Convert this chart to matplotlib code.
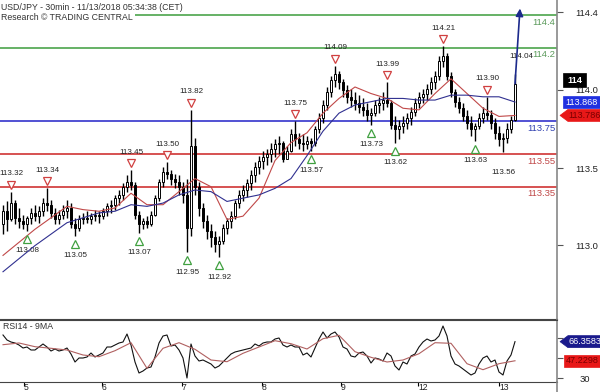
import numpy as np
import matplotlib
matplotlib.use("Agg")
from matplotlib import pyplot as plt
from matplotlib import transforms as mtrans
from matplotlib.patches import Polygon
from matplotlib.lines import Line2D

plt.rcParams["font.family"] = ["Liberation Sans", "DejaVu Sans"]

# candles (one per ~1h slot)
hi = [113.24, 113.26, 113.32, 113.27, 113.22, 113.18, 113.17, 113.22, 113.24, 113.23,
      113.28, 113.34, 113.27, 113.22, 113.21, 113.24, 113.27, 113.25, 113.16, 113.18,
      113.19, 113.20, 113.19, 113.21, 113.20, 113.22, 113.25, 113.27, 113.30, 113.33,
      113.37, 113.42, 113.45, 113.38, 113.20, 113.16, 113.17, 113.20, 113.30, 113.40,
      113.47, 113.50, 113.45, 113.43, 113.42, 113.38, 113.40, 113.82, 113.65, 113.38,
      113.25, 113.18, 113.12, 113.08, 113.05, 113.12, 113.16, 113.20, 113.27, 113.33,
      113.36, 113.40, 113.45, 113.50, 113.54, 113.57, 113.58, 113.62, 113.64, 113.66,
      113.63, 113.60, 113.70, 113.75, 113.68, 113.67, 113.66, 113.65, 113.72, 113.80,
      113.88, 113.96, 114.03, 114.09, 114.06, 114.01, 113.97, 113.95, 113.93, 113.91,
      113.89, 113.86, 113.83, 113.88, 113.90, 113.93, 113.99, 113.88, 113.78, 113.76,
      113.78, 113.80, 113.84, 113.89, 113.93, 113.95, 113.98, 114.02, 114.06, 114.15,
      114.21, 114.17, 114.05, 113.95, 113.90, 113.86, 113.82, 113.78, 113.74, 113.80,
      113.84, 113.90, 113.82, 113.77, 113.72, 113.68, 113.74, 113.78, 114.04]
lo = [113.06, 113.08, 113.14, 113.12, 113.10, 113.09, 113.08, 113.12, 113.14, 113.13,
      113.17, 113.20, 113.16, 113.12, 113.12, 113.15, 113.16, 113.10, 113.05, 113.08,
      113.12, 113.13, 113.12, 113.14, 113.13, 113.15, 113.17, 113.19, 113.21, 113.24,
      113.27, 113.32, 113.33, 113.15, 113.07, 113.09, 113.10, 113.11, 113.17, 113.26,
      113.35, 113.40, 113.36, 113.34, 113.30, 113.25, 112.95, 113.05, 113.30, 113.17,
      113.10, 113.03, 112.98, 112.95, 112.92, 113.00, 113.06, 113.10, 113.15, 113.22,
      113.26, 113.29, 113.33, 113.38, 113.43, 113.46, 113.48, 113.50, 113.53, 113.55,
      113.50, 113.52, 113.56, 113.60, 113.58, 113.57, 113.58, 113.57, 113.60, 113.68,
      113.74, 113.82, 113.90, 113.96, 113.95, 113.90, 113.86, 113.84, 113.82, 113.80,
      113.78, 113.75, 113.73, 113.78, 113.80, 113.82, 113.84, 113.70, 113.62, 113.64,
      113.68, 113.70, 113.73, 113.78, 113.83, 113.86, 113.88, 113.92, 113.95, 114.00,
      114.08, 114.00, 113.90, 113.84, 113.80, 113.75, 113.70, 113.66, 113.63, 113.70,
      113.74, 113.76, 113.70, 113.64, 113.60, 113.56, 113.62, 113.68, 113.75]
cl = [113.20, 113.15, 113.25, 113.16, 113.14, 113.12, 113.16, 113.19, 113.17, 113.20,
      113.25, 113.24, 113.19, 113.15, 113.18, 113.20, 113.22, 113.12, 113.10, 113.15,
      113.16, 113.15, 113.17, 113.18, 113.17, 113.20, 113.23, 113.24, 113.28, 113.30,
      113.35, 113.38, 113.36, 113.18, 113.12, 113.14, 113.12, 113.18, 113.28, 113.38,
      113.44, 113.43, 113.40, 113.38, 113.35, 113.30, 113.10, 113.60, 113.35, 113.22,
      113.14, 113.08, 113.04, 113.00, 113.02, 113.10, 113.14, 113.17, 113.25, 113.30,
      113.33, 113.37, 113.42, 113.47, 113.51, 113.53, 113.55, 113.58, 113.61, 113.62,
      113.52, 113.57, 113.67, 113.64, 113.62, 113.61, 113.63, 113.62, 113.70, 113.77,
      113.85, 113.93, 114.00, 114.04, 113.99, 113.94, 113.90, 113.88, 113.86, 113.84,
      113.82, 113.79, 113.80, 113.85, 113.86, 113.88, 113.86, 113.73, 113.70, 113.72,
      113.74, 113.77, 113.81, 113.86, 113.90, 113.92, 113.95, 113.99, 114.03, 114.12,
      114.15, 114.03, 113.93, 113.87, 113.83, 113.78, 113.74, 113.70, 113.72, 113.77,
      113.80, 113.79, 113.74, 113.68, 113.64, 113.65, 113.70, 113.76, 113.98]
first_open = 113.12

rsi = [73, 68, 66, 65, 63, 60, 61, 58, 58, 61,
       64, 61, 57, 59, 57, 58, 60, 54, 46, 50,
       50, 51, 55, 51, 53, 55, 61, 61, 63, 65,
       66, 74, 63, 46, 35, 37, 40, 41, 51, 65,
       72, 73, 62, 63, 58, 50, 30, 64, 52, 47,
       48, 46, 44, 40, 42, 46, 50, 54, 56, 57,
       58, 59, 60, 64, 62, 65, 66, 66, 69, 70,
       63, 61, 63, 61, 61, 53, 55, 51, 60, 69,
       76, 70, 74, 76, 71, 61, 59, 52, 51, 55,
       56, 52, 45, 50, 49, 47, 55, 52, 42, 38,
       46, 44, 52, 54, 61, 66, 69, 67, 68, 72,
       82, 72, 52, 44, 42, 39, 36, 33, 35, 44,
       50, 52, 46, 48, 36, 33, 47, 53, 66.3583]

# moving averages, sampled every 4th slot
ma_step = 4
red_ma = [112.93, 113.01, 113.09, 113.16, 113.23, 113.21, 113.20, 113.22, 113.31, 113.24,
          113.24, 113.32, 113.40, 113.35, 113.15, 113.17, 113.28, 113.51, 113.62, 113.68,
          113.80, 113.89, 113.96, 113.92, 113.89, 113.83, 113.82, 113.92, 114.01, 113.92,
          113.83, 113.78, 113.786]
blue_ma = [112.83, 112.91, 112.99, 113.06, 113.13, 113.16, 113.19, 113.20, 113.24, 113.23,
           113.25, 113.30, 113.33, 113.32, 113.26, 113.28, 113.30, 113.34, 113.40, 113.54,
           113.69, 113.80, 113.85, 113.87, 113.89, 113.89, 113.88, 113.88, 113.91, 113.91,
           113.90, 113.90, 113.868]
rsi_ma = [63.3, 65, 61.3, 59.7, 58, 53, 51.3, 57.3, 65.3, 39.7,
          59.7, 65.3, 58.7, 48, 46.3, 54.7, 61, 67.3, 64.3, 59,
          69.3, 72.7, 56.3, 50.7, 46, 48, 54.3, 65.3, 64.7, 44.3,
          38.3, 44.3, 47.2298]

hi_marks = [2, 11, 32, 41, 47, 73, 83, 96, 110, 121]
lo_marks = [6, 18, 34, 46, 54, 77, 92, 98, 118]
lo_note = 125

res_levels = [114.4, 114.2]
pivot = 113.75
sup_levels = [113.55, 113.35]
arrow_to = 114.44

day_pos = [5.25, 24.75, 44.75, 64.75, 84.5, 103.75, 124]
day_lbl = ["5", "6", "7", "8", "9", "12", "13"]
ytick_pos = [112.993, 113.464, 113.944, 114.418]
ytick_lbl = ["113.0", "113.5", "114.0", "114.4"]

GREEN = "#3c9c3c"
BLUE = "#2222c8"
RED = "#cc2222"
NAVY = "#1c2a8c"

W, H = 600, 392
fig = plt.figure(figsize=(6, 3.92), dpi=100)
ax = fig.add_axes([0, 1 - 319 / H, 557 / W, 319 / H])
axr = fig.add_axes([0, 1 - 382 / H, 557 / W, 62 / H])

hi = np.array(hi); lo = np.array(lo); cl = np.array(cl)
op = np.r_[first_open, cl[:-1]]
x = np.arange(len(cl))
xm = np.arange(len(red_ma)) * ma_step

# levels
for lv in res_levels:
    ax.axhline(lv, color=GREEN, lw=1.1, zorder=1)
    ax.annotate(f"{lv:.1f}", (0.997, lv), xycoords=("axes fraction", "data"),
                xytext=(0, -7), textcoords="offset pixels", ha="right", va="center",
                fontsize=6.8, color="#5a9a5a")
ax.axhline(pivot, color=BLUE, lw=1.1, zorder=1)
ax.annotate(f"{pivot:.2f}", (0.997, pivot), xycoords=("axes fraction", "data"),
            xytext=(0, -7), textcoords="offset pixels", ha="right", va="center",
            fontsize=6.8, color="#3040b0")
for lv in sup_levels:
    ax.axhline(lv, color=RED, lw=1.1, zorder=1)
    ax.annotate(f"{lv:.2f}", (0.997, lv), xycoords=("axes fraction", "data"),
                xytext=(0, -7), textcoords="offset pixels", ha="right", va="center",
                fontsize=6.8, color="#c04848")

# candles
ax.vlines(x, lo, hi, color="black", lw=1.0, zorder=3)
up = cl >= op
ax.bar(x[up], (cl - op)[up], bottom=op[up], width=0.7, color="white",
       edgecolor="black", lw=0.7, zorder=4)
ax.bar(x[~up], (op - cl)[~up], bottom=cl[~up], width=0.7, color="black",
       edgecolor="black", lw=0.7, zorder=4)

ax.plot(xm, red_ma, color="#c04848", lw=0.8, zorder=5)
ax.plot(xm, blue_ma, color="#303090", lw=0.8, zorder=5)

# swing highs / lows
up_off = mtrans.offset_copy(ax.transData, fig=fig, y=7, units="dots")
dn_off = mtrans.offset_copy(ax.transData, fig=fig, y=-8, units="dots")
for k in hi_marks:
    ax.plot(k, hi[k], "v", ms=5.5, mfc="white", mec="#d04040", mew=0.9,
            transform=up_off, zorder=6)
    ax.annotate(f"{hi[k]:.2f}", (k, hi[k]), xytext=(0, 18), textcoords="offset pixels",
                ha="center", va="center", fontsize=5.8, color="#222222")
for k in lo_marks:
    ax.plot(k, lo[k], "^", ms=5.5, mfc="white", mec="#40a040", mew=0.9,
            transform=dn_off, zorder=6)
    ax.annotate(f"{lo[k]:.2f}", (k, lo[k]), xytext=(0, -20), textcoords="offset pixels",
                ha="center", va="center", fontsize=5.8, color="#222222")
ax.annotate(f"{lo[lo_note]:.2f}", (lo_note, lo[lo_note]), xytext=(0, -20),
            textcoords="offset pixels", ha="center", va="center", fontsize=5.8, color="#222222")
ax.annotate(f"{hi[-1]:.2f}", (x[-1], hi[-1]), xytext=(6, 17), textcoords="offset pixels",
            ha="center", va="center", fontsize=5.8, color="#222222")

# projection arrow
ax.annotate("", xy=(x[-1] + 1.25, arrow_to), xytext=(x[-1], cl[-1]),
            arrowprops=dict(arrowstyle="-|>", color=NAVY, lw=1.2, mutation_scale=11,
                            shrinkA=0, shrinkB=0), zorder=7)

ax.set_xlim(-0.75, 138.5)
ax.set_ylim(112.541, 114.492)
ax.set_xticks([])
ax.yaxis.tick_right()
ax.set_yticks(ytick_pos)
ax.set_yticklabels(ytick_lbl)
ax.tick_params(axis="y", direction="out", length=4, width=0.8, color="#555555",
               pad=9, labelsize=6.8, labelcolor="#222222")
for s in ("left", "top"):
    ax.spines[s].set_visible(False)
ax.spines["right"].set_color("#888888")
ax.spines["right"].set_linewidth(1.2)
ax.spines["bottom"].set_color("#444444")

# RSI panel
axr.plot(x, rsi, color="#111111", lw=0.8)
axr.plot(xm, rsi_ma, color="#b06060", lw=0.8)
axr.set_xlim(-0.75, 138.5)
axr.set_ylim(26, 88)
axr.yaxis.tick_right()
axr.set_yticks([30, 50, 70])
axr.tick_params(axis="y", direction="out", length=4, width=0.8, color="#555555",
                pad=12, labelsize=6.8, labelcolor="#222222")
axr.set_xticks(day_pos)
axr.set_xticklabels(day_lbl)
axr.tick_params(axis="x", direction="out", length=3, width=0.8, pad=-2,
                labelsize=6.2, labelcolor="#222222")
for t in axr.get_xticklabels():
    t.set_ha("left")
axr.spines["left"].set_visible(False)
axr.spines["right"].set_color("#888888")
axr.spines["right"].set_linewidth(1.2)
for s in ("top", "bottom"):
    axr.spines[s].set_color("#444444")
axr.text(0.005, 0.9, "RSI14 - 9MA", transform=axr.transAxes, fontsize=6.3,
         color="#333333", va="center")
fig.add_artist(Line2D([557 / W, 557 / W], [0, 1 - 382 / H], color="#888888", lw=1.2))


def tag(a, value, text, fc, tc, x0, x1, h=6, pointer=False, bold=False):
    anchor = mtrans.blended_transform_factory(a.transAxes, a.transData)
    tr = mtrans.Affine2D() + mtrans.ScaledTranslation(1.0, value, anchor)
    if pointer:
        verts = [(x0 - 8, 0), (x0, h), (x1, h), (x1, -h), (x0, -h)]
    else:
        verts = [(x0, h), (x1, h), (x1, -h), (x0, -h)]
    fig.add_artist(Polygon(verts, closed=True, transform=tr, fc=fc, ec=fc, lw=0.5))
    fig.text((x0 + x1) / 2 + (1 if pointer else 0), 0, text, transform=tr, ha="center",
             va="center", fontsize=6.6, color=tc, fontweight="bold" if bold else "normal")


tag(ax, 114.0, "114", "black", "white", 6, 29, h=7, bold=True)
tag(ax, blue_ma[-1], f"{blue_ma[-1]:.3f}", "#2030e0", "white", 6, 43)
tag(ax, red_ma[-1], f"{red_ma[-1]:.3f}", "#e81818", "#7a0000", 11, 43, pointer=True)
tag(axr, rsi[-1], f"{rsi[-1]:.4f}", "#1a1a8c", "white", 11, 43, pointer=True)
tag(axr, rsi_ma[-1], f"{rsi_ma[-1]:.4f}", "#e81818", "#7a0000", 7, 43)

# header
fig.text(1 / W, 1 - 7 / H, "USD/JPY - 30min - 11/13/2018 05:34:38 (CET)", fontsize=6.3,
         color="#333333", va="center",
         bbox=dict(fc="white", ec="none", pad=1.5))
fig.text(1 / W, 1 - 18 / H, "Research \u00a9 TRADING CENTRAL", fontsize=6.3,
         color="#333333", va="center",
         bbox=dict(fc="white", ec="none", pad=1.5))

fig.savefig("out.png", dpi=100)
